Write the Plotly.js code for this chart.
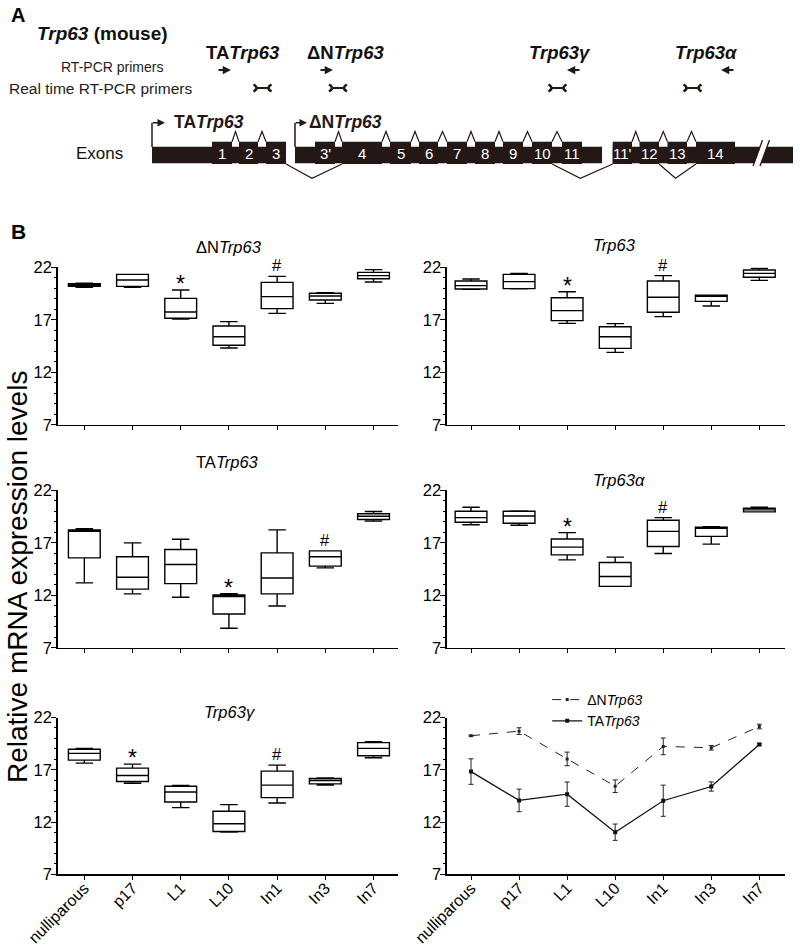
<!DOCTYPE html>
<html>
<head>
<meta charset="utf-8">
<script src="https://cdn.plot.ly/plotly-3.0.1.min.js"></script>
<style>html,body{margin:0;padding:0;background:#fff;}#chart{width:800px;height:945px;}</style>
</head>
<body>
<div id="chart"></div>
<script>
// ---------------- data ----------------
const categories = ['nulliparous', 'p17', 'L1', 'L10', 'In1', 'In3', 'In7'];

// ΔNTrp63 box plot
const dnLow  = [20.10, 20.10, 17.08, 14.32, 17.62, 18.57, 20.60];
const dnQ1   = [20.20, 20.19, 17.15, 14.58, 18.07, 18.89, 20.92];
const dnMed  = [20.35, 20.80, 17.75, 15.40, 19.21, 19.27, 21.21];
const dnQ3   = [20.45, 21.33, 19.05, 16.42, 20.57, 19.53, 21.52];
const dnHigh = [20.50, 21.33, 19.84, 16.83, 21.14, 19.59, 21.78];
const dnSig  = ['', '', '*', '', '#', '', ''];

// Trp63 box plot
const tLow  = [19.90, 19.95, 16.67, 13.91, 17.31, 18.32, 20.76];
const tQ1   = [19.94, 19.97, 16.93, 14.29, 17.72, 18.76, 21.05];
const tMed  = [20.26, 20.64, 17.88, 15.40, 19.15, 19.27, 21.43];
const tQ3   = [20.70, 21.33, 19.11, 16.35, 20.70, 19.34, 21.75];
const tHigh = [20.89, 21.43, 19.68, 16.64, 21.21, 19.36, 21.90];
const tSig  = ['', '', '*', '', '#', '', ''];

// TATrp63 box plot
const taLow  = [13.20, 12.15, 11.83, 8.88, 11.00, 14.63, 19.08];
const taQ1   = [15.58, 12.60, 13.13, 10.24, 12.15, 14.79, 19.24];
const taMed  = [18.12, 13.74, 14.95, 11.90, 13.67, 15.68, 19.55];
const taQ3   = [18.25, 15.68, 16.38, 12.05, 16.06, 16.25, 19.78];
const taHigh = [18.35, 17.01, 17.36, 12.18, 18.25, 16.25, 20.00];
const taSig  = ['', '', '', '*', '', '#', ''];

// Trp63α box plot
const aLow  = [18.74, 18.68, 15.39, 12.87, 16.00, 16.89, 19.96];
const aQ1   = [18.97, 18.87, 15.87, 12.87, 16.67, 17.63, 19.96];
const aMed  = [19.41, 19.57, 16.60, 13.80, 18.10, 18.45, 20.15];
const aQ3   = [20.02, 20.02, 17.37, 15.14, 19.16, 18.49, 20.31];
const aHigh = [20.40, 20.05, 17.98, 15.65, 19.41, 18.55, 20.40];
const aSig  = ['', '', '*', '', '#', '', ''];

// Trp63γ box plot
const gLow  = [17.64, 15.72, 13.38, 11.04, 13.83, 15.53, 18.15];
const gQ1   = [17.93, 15.88, 13.92, 11.10, 14.34, 15.65, 18.35];
const gMed  = [18.57, 16.46, 14.88, 11.84, 15.53, 15.97, 19.05];
const gQ3   = [18.96, 17.16, 15.43, 13.03, 16.87, 16.17, 19.60];
const gHigh = [19.05, 17.54, 15.50, 13.67, 17.45, 16.23, 19.69];
const gSig  = ['', '*', '', '', '#', '', ''];

// mean ± error line panel
const dnMean = [20.26, 20.70, 18.04, 15.43, 19.24, 19.11, 21.14];
const dnErr  = [0.05, 0.32, 0.65, 0.60, 0.80, 0.22, 0.22];
const taMean = [16.83, 14.07, 14.67, 11.03, 14.04, 15.40, 19.43];
const taErr  = [1.22, 1.08, 1.16, 0.78, 1.49, 0.44, 0.10];

// gene diagram (panel A)
const exonLabels = ['1', '2', '3', "3'", '4', '5', '6', '7', '8', '9', '10', '11', "11'", '12', '13', '14'];

// ---------------- layout geometry ----------------
const FONT = '"Liberation Sans", Arial, Helvetica, sans-serif';
const INK = '#231815';
const W = 800, H = 945;
const py = p => 1 - p / H;

const colL = {domain: [0.0719, 0.4975], range: [-0.556, 6.508]};
const colR = {domain: [0.5584, 0.9813], range: [-0.506, 6.535]};
const rows = [[0.5503, 0.7171], [0.3143, 0.4810], [0.0748, 0.2407]];

// exon boxes in diagram pixel space
const exonX = [[212,232],[239,258],[266,286],[315,335],[342,382],[390,411],[419,438],[447,467],[475,495],[503,523],[532,552],[562,582],[612.7,632],[639.5,659],[667.5,687],[696,735]];

const panels = [
  {lo: dnLow, q1: dnQ1, med: dnMed, q3: dnQ3, hi: dnHigh, sig: dnSig, col: colL, row: 0, labels: false},
  {lo: tLow, q1: tQ1, med: tMed, q3: tQ3, hi: tHigh, sig: tSig, col: colR, row: 0, labels: false},
  {lo: taLow, q1: taQ1, med: taMed, q3: taQ3, hi: taHigh, sig: taSig, col: colL, row: 1, labels: false},
  {lo: aLow, q1: aQ1, med: aMed, q3: aQ3, hi: aHigh, sig: aSig, col: colR, row: 1, labels: false},
  {lo: gLow, q1: gQ1, med: gMed, q3: gQ3, hi: gHigh, sig: gSig, col: colL, row: 2, labels: true}
];

const traces = [];
const annotations = [];
const shapes = [];
const layout = {
  width: W, height: H,
  margin: {l: 0, r: 0, t: 0, b: 0},
  paper_bgcolor: '#fff', plot_bgcolor: 'rgba(0,0,0,0)',
  font: {family: FONT, color: '#000', size: 16},
  showlegend: true,
  legend: {x: 0.684, y: 1 - 684 / H, xanchor: 'left', yanchor: 'top', font: {size: 14, family: FONT},
           bgcolor: 'rgba(0,0,0,0)', itemwidth: 30, tracegroupgap: 0},
  annotations: annotations,
  shapes: shapes
};

function axes(i, col, row, labels) {
  const sfx = i === 1 ? '' : String(i);
  layout['xaxis' + sfx] = {
    domain: col.domain, range: col.range, type: 'category', categoryarray: categories,
    anchor: 'y' + sfx, showline: true, linecolor: '#000', linewidth: 1.3, mirror: false,
    ticks: 'outside', ticklen: 4, tickwidth: 1, tickcolor: '#000',
    showgrid: false, zeroline: false, showticklabels: labels, tickangle: -45,
    ticklabelstandoff: -7,
    tickfont: {size: 16, family: FONT, color: '#000'}, fixedrange: true
  };
  layout['yaxis' + sfx] = {
    domain: rows[row], range: [7, 22], anchor: 'x' + sfx,
    tickmode: 'linear', tick0: 7, dtick: 5,
    showline: true, linecolor: '#000', linewidth: 1.3,
    ticks: 'outside', ticklen: 5, tickwidth: 1, tickcolor: '#000',
    minor: {tickmode: 'linear', tick0: 7, dtick: 1, ticks: 'outside', ticklen: 2.5, tickcolor: '#000', showgrid: false},
    showgrid: false, zeroline: false, ticklabelstandoff: -4,
    tickfont: {size: 16.5, family: FONT, color: '#000'}, fixedrange: true
  };
}

panels.forEach((p, k) => {
  const i = k + 1;
  const sfx = i === 1 ? '' : String(i);
  axes(i, p.col, p.row, p.labels);
  traces.push({
    type: 'box', x: categories, q1: p.q1, median: p.med, q3: p.q3,
    lowerfence: p.lo, upperfence: p.hi,
    xaxis: 'x' + sfx, yaxis: 'y' + sfx,
    boxpoints: false, width: 0.66, whiskerwidth: 0.55,
    fillcolor: '#fff', line: {color: '#000', width: 1.4},
    showlegend: false, hoverinfo: 'skip'
  });
  p.sig.forEach((s, j) => {
    if (!s) return;
    annotations.push({
      xref: 'x' + sfx, yref: 'y' + sfx, x: categories[j], y: p.hi[j],
      text: s, showarrow: false, yanchor: 'bottom',
      yshift: s === '*' ? -9 : 0,
      font: {size: s === '*' ? 23 : 16.5, family: FONT, color: '#000'}
    });
  });
});

// line panel
axes(6, colR, 2, true);
traces.push({
  type: 'scatter', mode: 'lines+markers', x: categories, y: dnMean,
  xaxis: 'x6', yaxis: 'y6', name: 'ΔN<i>Trp63</i>',
  line: {color: '#222', width: 1, dash: 'dash'},
  marker: {symbol: 'square', size: 3, color: '#222'},
  error_y: {type: 'data', array: dnErr, visible: true, thickness: 1, width: 2.5, color: '#222'},
  hoverinfo: 'skip'
});
traces.push({
  type: 'scatter', mode: 'lines+markers', x: categories, y: taMean,
  xaxis: 'x6', yaxis: 'y6', name: 'TA<i>Trp63</i>',
  line: {color: '#111', width: 1.3},
  marker: {symbol: 'square', size: 4, color: '#111'},
  error_y: {type: 'data', array: taErr, visible: true, thickness: 1, width: 2.5, color: '#222'},
  hoverinfo: 'skip'
});

// subplot titles
const titles = [
  ['ΔN<i>Trp63</i>', 229, 246.7],
  ['<i>Trp63</i>', 614, 245],
  ['TA<i>Trp63</i>', 227.5, 461.7],
  ['<i>Trp63α</i>', 619, 480],
  ['<i>Trp63γ</i>', 230, 712]
];
titles.forEach(t => annotations.push({
  xref: 'paper', yref: 'paper', x: t[1] / W, y: py(t[2]), text: t[0], showarrow: false,
  xanchor: 'center', yanchor: 'middle', font: {size: 16.5, family: FONT, color: '#000'}
}));

// y-axis common title and panel label B
annotations.push({
  xref: 'paper', yref: 'paper', x: 17 / W, y: py(577), text: 'Relative mRNA expression levels',
  textangle: -90, showarrow: false, xanchor: 'center', yanchor: 'middle',
  font: {size: 28, family: FONT, color: '#000'}
});
annotations.push({
  xref: 'paper', yref: 'paper', x: 9 / W, y: py(231), text: '<b>B</b>', showarrow: false,
  xanchor: 'left', yanchor: 'middle', font: {size: 21, family: FONT, color: '#000'}
});

// ---------------- panel A diagram (axis in pixel units) ----------------
layout.xaxis7 = {domain: [0, 1], range: [0, W], visible: false, fixedrange: true, anchor: 'y7'};
layout.yaxis7 = {domain: [1 - 185 / H, 1], range: [185, 0], visible: false, fixedrange: true, anchor: 'x7'};
traces.push({type: 'scatter', x: [0], y: [0], xaxis: 'x7', yaxis: 'y7', mode: 'markers',
  marker: {opacity: 0}, showlegend: false, hoverinfo: 'skip'});

const D = (o) => Object.assign({xref: 'x7', yref: 'y7'}, o);
const txt = (x, y, text, size, anchor, color) => annotations.push(D({
  x: x, y: y, text: text, showarrow: false, xanchor: anchor || 'left', yanchor: 'middle',
  font: {size: size, family: FONT, color: color || INK}
}));

// backbone bar
[[152, 286], [295, 602], [612.7, 793]].forEach(s => shapes.push(D({
  type: 'rect', x0: s[0], x1: s[1], y0: 146.7, y1: 163.3, fillcolor: INK, line: {width: 0}, layer: 'above'
})));
// break mark
shapes.push(D({type: 'path', path: 'M 753.5 166 L 760 166 L 769.5 140 L 763 140 Z', fillcolor: '#fff', line: {width: 0}, layer: 'above'}));
shapes.push(D({type: 'line', x0: 753, y0: 166, x1: 762.5, y1: 140, line: {color: INK, width: 1.3}, layer: 'above'}));
shapes.push(D({type: 'line', x0: 760, y0: 166, x1: 769.5, y1: 140, line: {color: INK, width: 1.3}, layer: 'above'}));

// exons
exonX.forEach((e, i) => {
  shapes.push(D({type: 'rect', x0: e[0], x1: e[1], y0: 141.7, y1: 164, fillcolor: INK, line: {width: 0}, layer: 'above'}));
  txt((e[0] + e[1]) / 2, 153.5, exonLabels[i], 15, 'center', '#fff');
});
// splice connectors above (adjacent exons)
const upPairs = [[0,1],[1,2],[3,4],[4,5],[5,6],[6,7],[7,8],[8,9],[9,10],[10,11],[12,13],[13,14],[14,15]];
upPairs.forEach(pr => {
  const a = exonX[pr[0]][1], b = exonX[pr[1]][0];
  shapes.push(D({type: 'path', path: `M ${a} 141.7 L ${(a + b) / 2} 131.5 L ${b} 141.7`,
    line: {color: INK, width: 1.2}, layer: 'above'}));
});
// splice connectors below (alternative splicing)
const downPairs = [[2,4],[10,12],[13,15]];
downPairs.forEach(pr => {
  const a = exonX[pr[0]][1], b = exonX[pr[1]][0];
  shapes.push(D({type: 'path', path: `M ${a} 164 L ${(a + b) / 2 - 2} 178.3 L ${b} 164`,
    line: {color: INK, width: 1.2}, layer: 'above'}));
});
// transcription start sites
[[152, 165], [295, 307]].forEach(s => {
  shapes.push(D({type: 'line', x0: s[0], y0: 147, x1: s[0], y1: 122.7, line: {color: INK, width: 1.5}, layer: 'above'}));
  annotations.push(D({x: s[1], y: 122.7, ax: s[0] - 0.7, ay: 122.7, axref: 'x7', ayref: 'y7', text: '',
    showarrow: true, arrowhead: 2, arrowsize: 1, arrowwidth: 1.5, arrowcolor: INK}));
});
txt(171.5, 122, '<b>TA<i>Trp63</i></b>', 17.5);
txt(307, 122, '<b>ΔN<i>Trp63</i></b>', 17.5);
txt(74, 153.5, 'Exons', 17, 'left', '#111');

// primers
[[217, 231], [319, 333], [581, 567], [735, 721]].forEach(a => annotations.push(D({
  x: a[1], y: 70, ax: a[0], ay: 70, axref: 'x7', ayref: 'y7', text: '', showarrow: true,
  arrowhead: 2, arrowsize: 0.75, arrowwidth: 2.2, arrowcolor: INK
})));
[262.5, 338, 557.5, 692.5].forEach(c => {
  shapes.push(D({type: 'path', path: `M ${c - 9} 84.5 Q ${c - 3} 88 ${c - 9} 91.5`, line: {color: INK, width: 2.6}, layer: 'above'}));
  shapes.push(D({type: 'path', path: `M ${c + 9} 84.5 Q ${c + 3} 88 ${c + 9} 91.5`, line: {color: INK, width: 2.6}, layer: 'above'}));
  shapes.push(D({type: 'line', x0: c - 6, y0: 88, x1: c + 6, y1: 88, line: {color: INK, width: 2}, layer: 'above'}));
});

// headings
txt(9, 15, '<b>A</b>', 20, 'left', '#000');
txt(35, 33, '<b><i>Trp63</i> (mouse)</b>', 19, 'left', '#111');
txt(242.5, 52, '<b>TA<i>Trp63</i></b>', 18.5, 'center', '#111');
txt(345.5, 52, '<b>ΔN<i>Trp63</i></b>', 18.5, 'center', '#111');
txt(559.5, 52, '<b><i>Trp63γ</i></b>', 18.5, 'center', '#111');
txt(706.5, 52, '<b><i>Trp63α</i></b>', 18.5, 'center', '#111');
txt(112, 67, 'RT-PCR primers', 14, 'center', '#222');
txt(6.7, 88, 'Real time RT-PCR primers', 15.5, 'left', '#222');

Plotly.newPlot('chart', traces, layout, {staticPlot: true, displayModeBar: false});
</script>
</body>
</html>
